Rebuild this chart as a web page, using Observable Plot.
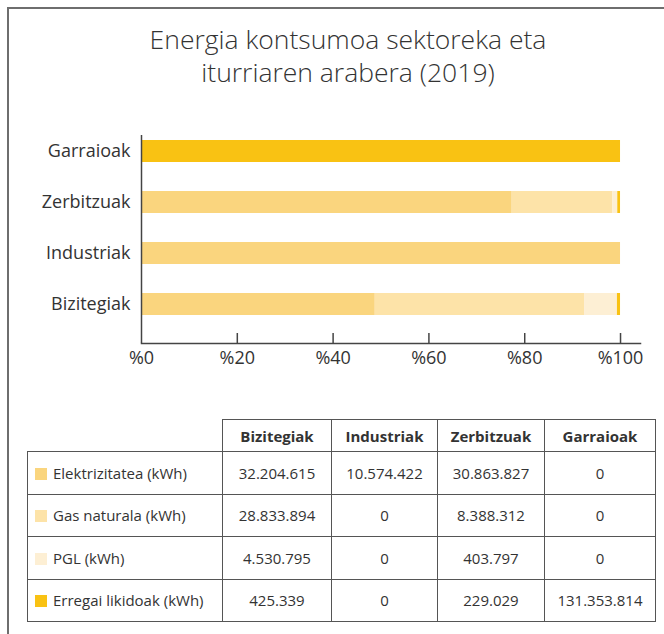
<!DOCTYPE html>
<html>
<head>
<meta charset="utf-8">
<script src="https://cdn.jsdelivr.net/npm/d3@7"></script>
<script src="https://cdn.jsdelivr.net/npm/@observablehq/plot@0.6"></script>
<style>
  html, body { margin: 0; padding: 0; background: #fff; overflow: hidden; }
  body { width: 664px; height: 634px; position: relative; font-family: "Open Sans", sans-serif; color: #333; }
  #frame { position: absolute; left: 7px; top: 7px; width: 720px; height: 700px; border-top: 2px solid #6e6e6e; border-left: 2px solid #6e6e6e; }
  #title { position: absolute; left: 0; top: 23px; width: 696px; text-align: center; font-size: 26.5px; font-weight: 300; line-height: 33px; color: #333; }
  #chart { position: absolute; left: 0; top: 120px; }
  #tbl { position: absolute; left: 27px; top: 419px; border-collapse: collapse; table-layout: fixed; font-size: 15px; color: #333; }
  #tbl th, #tbl td { border: 1.5px solid #555; text-align: center; padding: 0; }
  #tbl th { height: 31px; font-weight: 700; }
  #tbl td { height: 41.5px; }
  #tbl th.corner { border-top: none; border-left: none; }
  #tbl td.lab { text-align: left; padding-left: 7px; white-space: nowrap; }
  .sw { display: inline-block; width: 12px; height: 12px; margin-right: 6px; vertical-align: -1px; }
</style>
</head>
<body>
<div id="frame"></div>
<div id="title">Energia kontsumoa sektoreka eta<br>iturriaren arabera (2019)</div>
<div id="chart"></div>
<table id="tbl"></table>
<script>
// ---- data ----
const sectors = ["Bizitegiak", "Industriak", "Zerbitzuak", "Garraioak"];
const barOrder = ["Garraioak", "Zerbitzuak", "Industriak", "Bizitegiak"];
const sources = ["Elektrizitatea (kWh)", "Gas naturala (kWh)", "PGL (kWh)", "Erregai likidoak (kWh)"];
const elektrizitatea = [32204615, 10574422, 30863827, 0];
const gasNaturala = [28833894, 0, 8388312, 0];
const pgl = [4530795, 0, 403797, 0];
const erregaiLikidoak = [425339, 0, 229029, 131353814];
const sourceColors = ["#fad57e", "#fde3a8", "#fdefd4", "#f9c213"];
const xTicks = [0, 20, 40, 60, 80, 100];

const seriesValues = [elektrizitatea, gasNaturala, pgl, erregaiLikidoak];
const rows = [];
sources.forEach((src, i) => sectors.forEach((sec, j) => rows.push({source: src, sector: sec, value: seriesValues[i][j]})));
const tickFracs = xTicks.map(d => d / 100);

// ---- chart ----
const H = 258, MT = 15, MB = 35;
const chart = Plot.plot({
  width: 664,
  height: H,
  marginLeft: 141,
  marginRight: 24,
  marginTop: MT,
  marginBottom: MB,
  style: {fontFamily: "Open Sans, sans-serif", color: "#333", background: "transparent"},
  x: {domain: [0, 1.0417]},
  y: {domain: barOrder, paddingInner: 0.57, paddingOuter: 0.324, align: 0.15},
  color: {domain: sources, range: sourceColors},
  marks: [
    Plot.barX(rows, Plot.stackX({x: "value", y: "sector", fill: "source", offset: "normalize", order: null})),
    Plot.axisY({tickSize: 0, tickPadding: 11, fontSize: 18, label: null, fill: "#333"}),
    Plot.axisX({ticks: tickFracs, tickSize: 0, tickPadding: 8, fontSize: 18, label: null, fill: "#333",
      tickFormat: d => "%" + Math.round(d * 100)}),
    Plot.tickX(tickFracs.slice(1), {x: d => d, stroke: "#444", strokeWidth: 1.5, insetTop: H - MT - MB - 10}),
    Plot.ruleX([0], {stroke: "#444", strokeWidth: 1.5}),
    Plot.frame({anchor: "bottom", stroke: "#444", strokeWidth: 1.5})
  ]
});
document.getElementById("chart").appendChild(chart);

// ---- table ----
const fmt = d3.formatLocale({decimal: ",", thousands: ".", grouping: [3], currency: ["", ""]}).format(",");
const colWidths = [195, 109, 106, 107, 111];
const tbl = d3.select("#tbl");
tbl.append("colgroup").selectAll("col").data(colWidths).join("col").style("width", d => d + "px");
const head = tbl.append("tr");
head.append("th").attr("class", "corner");
sectors.forEach(s => head.append("th").text(s));
sources.forEach((src, i) => {
  const tr = tbl.append("tr");
  const lab = tr.append("td").attr("class", "lab");
  lab.append("span").attr("class", "sw").style("background", sourceColors[i]);
  lab.append("span").text(src);
  seriesValues[i].forEach(v => tr.append("td").text(fmt(v)));
});
</script>
</body>
</html>
